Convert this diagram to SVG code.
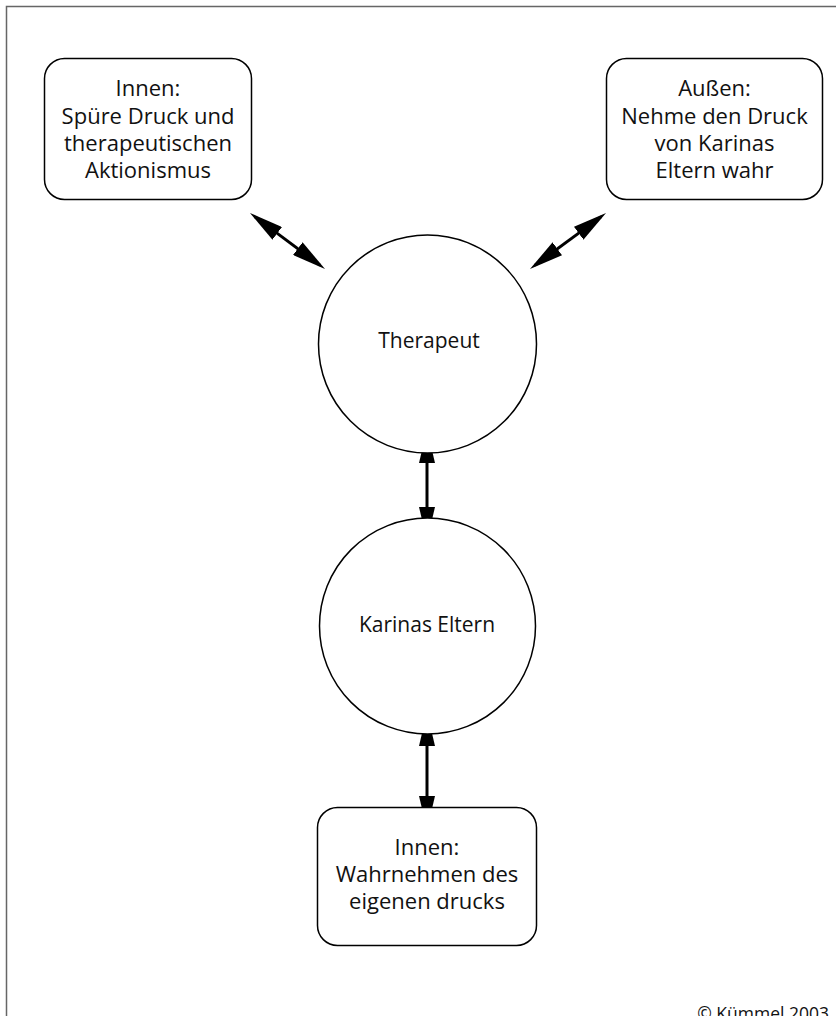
<svg xmlns="http://www.w3.org/2000/svg" width="836" height="1016" viewBox="0 0 836 1016">
<style>
.frame{fill:none;stroke:#666;stroke-width:1.5}
.box{fill:#fff;stroke:#000;stroke-width:1.5}
.circ{fill:#fff;stroke:#000;stroke-width:1.5}
.t{font-family:"Open Sans","Liberation Sans",sans-serif;font-size:22px;fill:#111;text-anchor:middle}
.tc{font-family:"Open Sans","Liberation Sans",sans-serif;font-size:21px;fill:#111;text-anchor:middle}
.copy{font-family:"Open Sans","Liberation Sans",sans-serif;font-size:17.5px;fill:#111;text-anchor:end}
.arr{fill:none;stroke:#000;stroke-width:3;marker-start:url(#ah);marker-end:url(#ah)}
</style>
<defs>
<marker id="ah" viewBox="0 0 34 16" markerWidth="34" markerHeight="16" refX="28" refY="8" orient="auto-start-reverse" markerUnits="userSpaceOnUse">
<path d="M0,0 L34,8 L0,16 Z" fill="#000"/>
</marker>
</defs>
<rect x="6.5" y="6.5" width="900" height="1100" class="frame"/>
<g id="connectors">
<line class="arr" x1="254.8" y1="216.6" x2="320.2" y2="265.4"/>
<line class="arr" x1="601.2" y1="216.6" x2="534.8" y2="265.4"/>
<line class="arr" x1="427" y1="435" x2="427" y2="535"/>
<line class="arr" x1="427" y1="718" x2="427" y2="824"/>
</g>
<g id="innen-links">
<rect class="box" x="44.5" y="58.5" width="207" height="141" rx="20"/>
<text class="t" x="148" y="96">Innen:</text>
<text class="t" x="148" y="124">Spüre Druck und</text>
<text class="t" x="148" y="151">therapeutischen</text>
<text class="t" x="148" y="178">Aktionismus</text>
</g>
<g id="aussen">
<rect class="box" x="606.5" y="58.5" width="216" height="141" rx="20"/>
<text class="t" x="714.5" y="96">Außen:</text>
<text class="t" x="714.5" y="124">Nehme den Druck</text>
<text class="t" x="714.5" y="151">von Karinas</text>
<text class="t" x="714.5" y="178">Eltern wahr</text>
</g>
<g id="therapeut">
<circle class="circ" cx="427.5" cy="344" r="109"/>
<text class="tc" x="429" y="348">Therapeut</text>
</g>
<g id="karinas-eltern">
<circle class="circ" cx="427.5" cy="626" r="108"/>
<text class="tc" x="427" y="632">Karinas Eltern</text>
</g>
<g id="innen-unten">
<rect class="box" x="317.5" y="807.5" width="219" height="138" rx="20"/>
<text class="t" x="427" y="855">Innen:</text>
<text class="t" x="427" y="882">Wahrnehmen des</text>
<text class="t" x="427" y="909">eigenen drucks</text>
</g>
<text class="copy" x="829" y="1020">© Kümmel 2003</text>
</svg>
